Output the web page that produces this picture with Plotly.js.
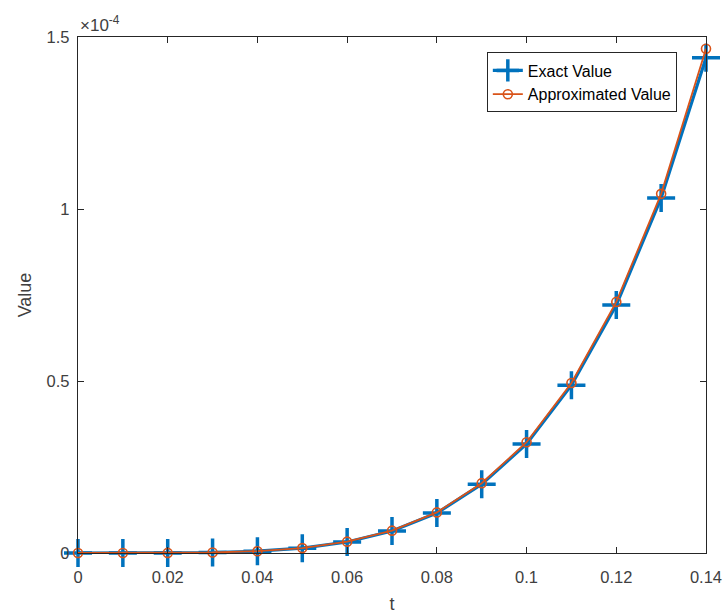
<!DOCTYPE html>
<html>
<head>
<meta charset="utf-8">
<script src="https://cdn.plot.ly/plotly-3.0.1.min.js"></script>
<style>html,body{margin:0;padding:0;background:#fff;}#chart{width:724px;height:616px;}</style>
</head>
<body>
<div id="chart"></div>
<script>
// time values
const t = [0, 0.01, 0.02, 0.03, 0.04, 0.05, 0.06, 0.07, 0.08, 0.09, 0.10, 0.11, 0.12, 0.13, 0.14];
// values in units of 1e-4
const exactValue = [0, 0.00002, 0.0003, 0.0015, 0.0052, 0.014, 0.032, 0.064, 0.116, 0.200, 0.317, 0.488, 0.721, 1.032, 1.440];
const approxValue = [0, 0.00002, 0.0003, 0.0015, 0.0053, 0.0143, 0.033, 0.065, 0.118, 0.203, 0.322, 0.494, 0.730, 1.044, 1.466];
const xTicks = [0, 0.02, 0.04, 0.06, 0.08, 0.1, 0.12, 0.14];
const xTickText = ['0', '0.02', '0.04', '0.06', '0.08', '0.1', '0.12', '0.14'];
const yTicks = [0, 0.5, 1, 1.5];
const yTickText = ['0', '0.5', '1', '1.5'];

const axisColor = '#262626';
const fam = 'Liberation Sans, Arial, sans-serif';
const font = {family: fam, size: 16.5, color: '#404040'};

const traces = [
  {
    x: t, y: exactValue, name: 'Exact Value', type: 'scatter', mode: 'lines+markers',
    cliponaxis: false,
    line: {color: '#0072BD', width: 3.2},
    marker: {symbol: 'cross-thin', size: 20, color: '#0072BD', line: {color: '#0072BD', width: 3.5}}
  },
  {
    x: t, y: approxValue, name: 'Approximated Value', type: 'scatter', mode: 'lines+markers',
    cliponaxis: false,
    line: {color: '#D95319', width: 1.8},
    marker: {symbol: 'circle-open', size: 9, color: '#D95319', line: {color: '#D95319', width: 1.6}}
  }
];

const layout = {
  width: 724, height: 616,
  margin: {l: 78, r: 18, t: 37, b: 63},
  paper_bgcolor: '#fff', plot_bgcolor: '#fff',
  font: font,
  showlegend: true,
  legend: {
    x: 0.651, y: 0.97, xanchor: 'left', yanchor: 'top',
    bgcolor: '#fff', bordercolor: axisColor, borderwidth: 1,
    font: {family: fam, size: 16, color: '#000'},
    tracegroupgap: 0
  },
  xaxis: {
    range: [0, 0.14], tickvals: xTicks, ticktext: xTickText,
    showgrid: false, zeroline: false,
    showline: true, linecolor: axisColor, linewidth: 1.2, mirror: 'ticks',
    ticks: 'inside', ticklen: 6, tickcolor: axisColor,
    tickfont: font, ticklabelstandoff: 9,
    title: {text: 't', font: {family: fam, size: 18, color: '#404040'}, standoff: 12}
  },
  yaxis: {
    range: [0, 1.5], tickvals: yTicks, ticktext: yTickText,
    showgrid: false, zeroline: false,
    showline: true, linecolor: axisColor, linewidth: 1.2, mirror: 'ticks',
    ticks: 'inside', ticklen: 6, tickcolor: axisColor,
    tickfont: font, ticklabelstandoff: 4,
    title: {text: 'Value', font: {family: fam, size: 18, color: '#404040'}, standoff: 10}
  },
  annotations: [
    {
      xref: 'paper', yref: 'paper', x: 0, y: 1, xanchor: 'left', yanchor: 'bottom',
      xshift: 0, yshift: 0,
      text: '×10<sup>-4</sup>', showarrow: false,
      font: {family: fam, size: 17, color: '#404040'}
    }
  ]
};

Plotly.newPlot('chart', traces, layout, {displayModeBar: false, staticPlot: true});
</script>
</body>
</html>
